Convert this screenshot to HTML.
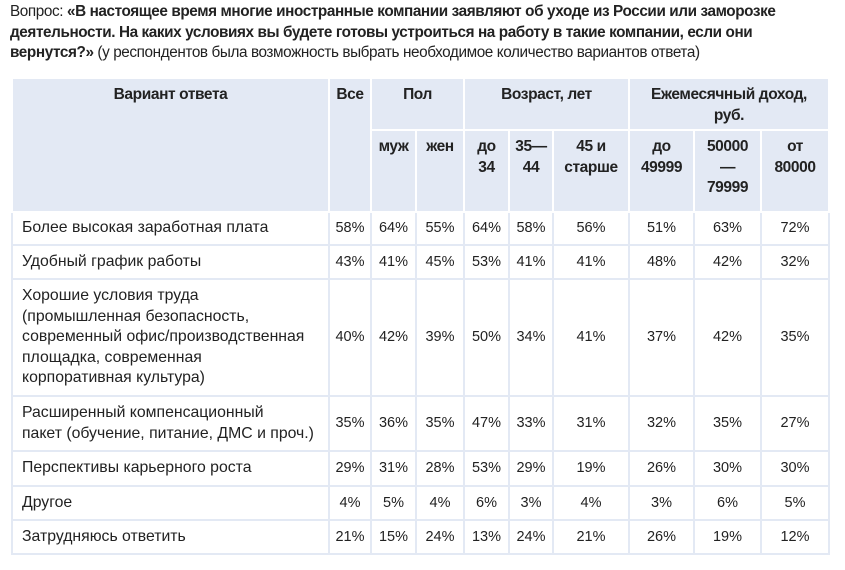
<!DOCTYPE html>
<html><head><meta charset="utf-8">
<style>
body{margin:0;background:#fff;width:845px;height:570px;overflow:hidden;font-family:"Liberation Sans",sans-serif;color:#222;}
.q{position:absolute;left:10px;top:2px;font-size:15.3px;line-height:20.5px;letter-spacing:-0.4px;white-space:nowrap;}
.q b{font-weight:bold;}
table{position:absolute;left:11px;top:77px;border-collapse:collapse;table-layout:fixed;font-size:14.5px;}
th{background:#e3e9f4;border:2px solid #fff;font-weight:bold;font-size:15.5px;line-height:20.5px;vertical-align:top;text-align:center;padding:6px 2px 3px;letter-spacing:-0.4px;white-space:nowrap;box-sizing:border-box;}
td{border:2px solid #e3e9f4;line-height:20.5px;padding:5px 2px;text-align:center;vertical-align:middle;}
td.l{text-align:left;padding-left:9px;font-size:15.8px;white-space:nowrap;}
</style></head><body>
<div class="q">Вопрос: <b>«В настоящее время многие иностранные компании заявляют об уходе из России или заморозке<br>деятельности. На каких условиях вы будете готовы устроиться на работу в такие компании, если они<br>вернутся?»</b> (у респондентов была возможность выбрать необходимое количество вариантов ответа)</div>
<table>
<colgroup><col style="width:317px"><col style="width:42px"><col style="width:45px"><col style="width:48px"><col style="width:45px"><col style="width:44px"><col style="width:76px"><col style="width:65px"><col style="width:67px"><col style="width:68px"></colgroup>
<tr style="height:51px"><th rowspan="2">Вариант ответа</th><th rowspan="2">Все</th><th colspan="2">Пол</th><th colspan="3">Возраст, лет</th><th colspan="3">Ежемесячный доход,<br>руб.</th></tr>
<tr style="height:82px"><th>муж</th><th>жен</th><th>до<br>34</th><th>35—<br>44</th><th>45 и<br>старше</th><th>до<br>49999</th><th>50000<br>—<br>79999</th><th>от<br>80000</th></tr>
<tbody id="tb"></tbody>
</table>
<script>
const labels=["Более высокая заработная плата","Удобный график работы","Хорошие условия труда<br>(промышленная безопасность,<br>современный офис/производственная<br>площадка, современная<br>корпоративная культура)","Расширенный компенсационный<br>пакет (обучение, питание, ДМС и проч.)","Перспективы карьерного роста","Другое","Затрудняюсь ответить"];
const values=[[58,64,55,64,58,56,51,63,72],[43,41,45,53,41,41,48,42,32],[40,42,39,50,34,41,37,42,35],[35,36,35,47,33,31,32,35,27],[29,31,28,53,29,19,26,30,30],[4,5,4,6,3,4,3,6,5],[21,15,24,13,24,21,26,19,12]];
const heights=[33,34,117,55,35,34,34];
const tb=document.getElementById('tb');
labels.forEach((lab,i)=>{
 const tr=document.createElement('tr');
 
 
 tr.style.height=heights[i]+'px';
 const td=document.createElement('td');td.className='l';td.innerHTML=lab;
 
 
 tr.appendChild(td);
 values[i].forEach(v=>{const c=document.createElement('td');c.textContent=v+'%';
  
  
  tr.appendChild(c);});
 tb.appendChild(tr);
});
</script>
</body></html>
